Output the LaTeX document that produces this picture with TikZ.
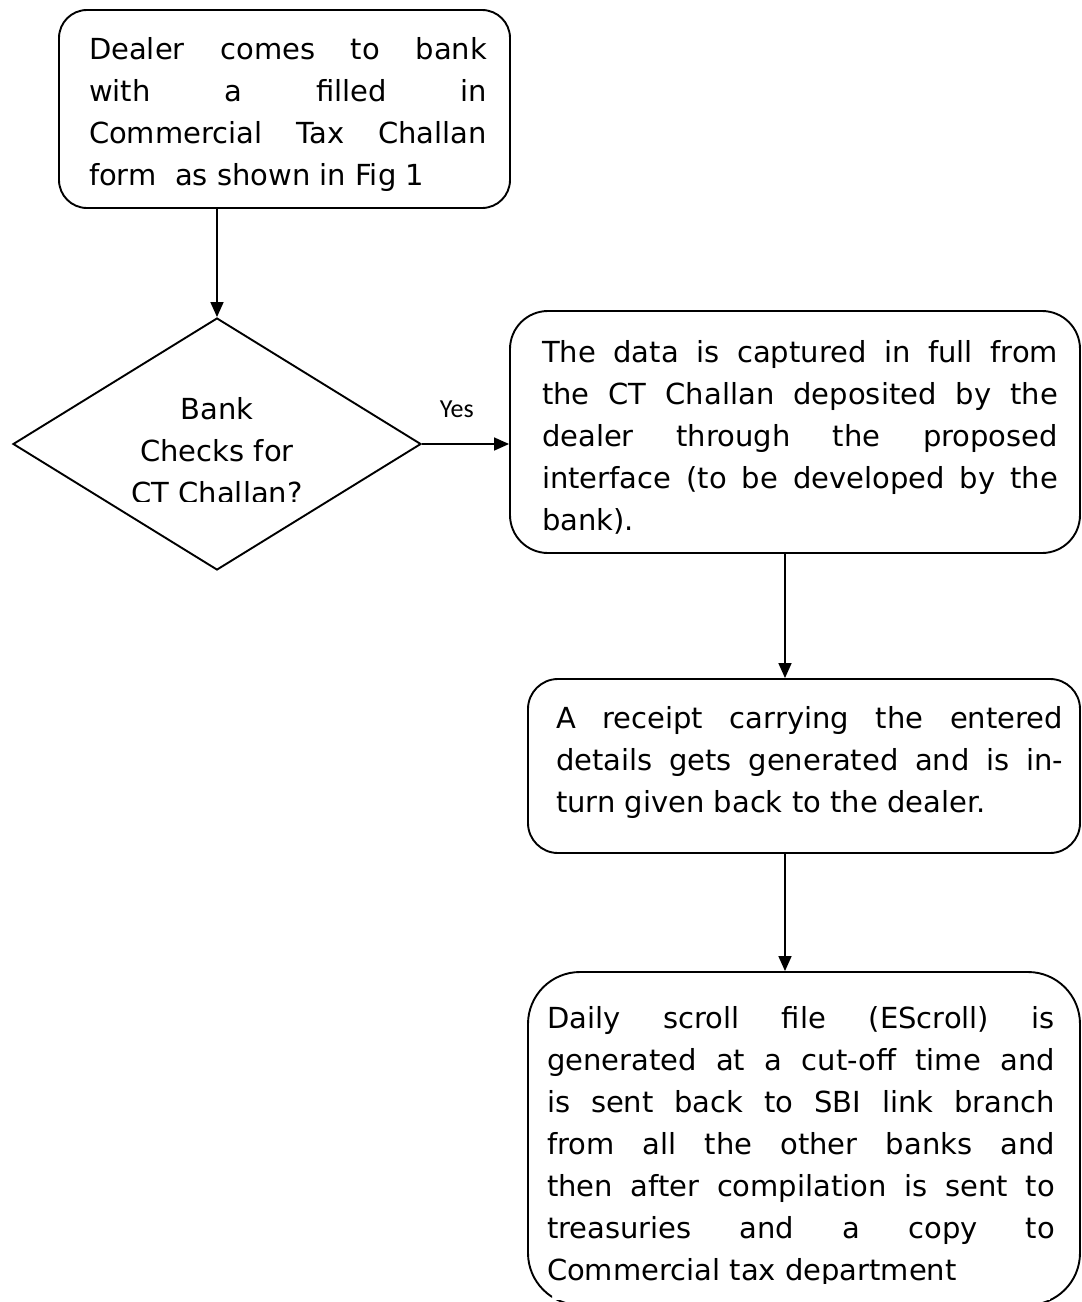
\documentclass[tikz,border=0pt]{standalone}
\usepackage{fontspec}
\setmainfont{DejaVu Sans}
\newfontfamily\yesfont{Carlito}
\usetikzlibrary{arrows.meta,shapes.geometric}
% #1 box width, #2 box height, #3 left inset, #4 right inset, #5 top gap, #6 text
\newcommand\flowtext[6]{\parbox[c][#2][t]{#1}{%
  \setlength\leftskip{#3}\setlength\rightskip{#4}\setlength\parindent{0pt}%
  \tolerance=10000 \hbadness=10000 \hyphenpenalty=10000 \exhyphenpenalty=10000
  \fontsize{29}{42}\selectfont\vspace*{#5}\strut #6\par}}
\tikzset{
  procbox/.style={draw, line width=1.9pt, inner sep=0pt, rectangle},
  decision/.style={draw, line width=1.9pt, inner sep=0pt, diamond,
    shape aspect=1.619, minimum width=408pt, minimum height=252pt},
  arr/.style={-{Triangle[length=15pt,width=13pt]}, line width=1.6pt},
  yeslabel/.style={inner sep=0pt, anchor=base, font=\yesfont\fontsize{26}{30}\selectfont}
}
\begin{document}
\begin{tikzpicture}[x=1pt,y=-1pt]
\useasboundingbox (0,0) rectangle (1082,1302);
\begin{scope}[even odd rule]
\clip (0,0) rectangle (1082,1302) (128,501) rectangle (306,510) (552,1283) rectangle (1050,1300);

\node[procbox, rounded corners=28pt] (box1) at (284.5,109)
  {\flowtext{451pt}{198pt}{30pt}{23pt}{19.6pt}{Dealer comes to bank\linebreak with a filled in\linebreak Commercial Tax Challan\linebreak form\ \ as shown in Fig 1}};

\node[decision] (dia) at (217,444)
  {\parbox[c][130pt][t]{180pt}{\centering\fontsize{29}{42}\selectfont\vspace*{10.6pt}\strut Bank\\\strut Checks for\\\strut\mbox{CT Challan?}\par}};

\node[procbox, rounded corners=38pt] (box2) at (795,432)
  {\flowtext{570pt}{242pt}{32pt}{22pt}{21.6pt}{The data is captured in full from\linebreak the CT Challan deposited by the\linebreak dealer through the proposed\linebreak interface (to be developed by the\linebreak bank).}};

\node[procbox, rounded corners=30pt] (box3) at (804,766)
  {\flowtext{552pt}{174pt}{28pt}{17pt}{19.6pt}{A receipt carrying the entered\linebreak details gets generated and is in-\linebreak turn given back to the dealer.}};

\node[procbox, rounded corners=52pt] (box4) at (804,1138.5)
  {\flowtext{552pt}{333pt}{19pt}{25pt}{26.6pt}{Daily scroll file (EScroll) is\linebreak generated at a cut-off time and\linebreak is sent back to SBI link branch\linebreak from all the other banks and\linebreak then after compilation is sent to\linebreak treasuries and a copy to\linebreak Commercial tax department}};

\coordinate (rightline) at (785,0);

\draw[arr] (box1.south -| dia.north) -- (dia.north);
\draw[arr] (dia.east) -- (dia.east -| box2.west)
  node[yeslabel, pos=0.4, yshift=27pt] (yes) {Yes};
\draw[arr] (box2.south -| rightline) -- (box3.north -| rightline);
\draw[arr] (box3.south -| rightline) -- (box4.north -| rightline);
\end{scope}
\end{tikzpicture}
\end{document}
